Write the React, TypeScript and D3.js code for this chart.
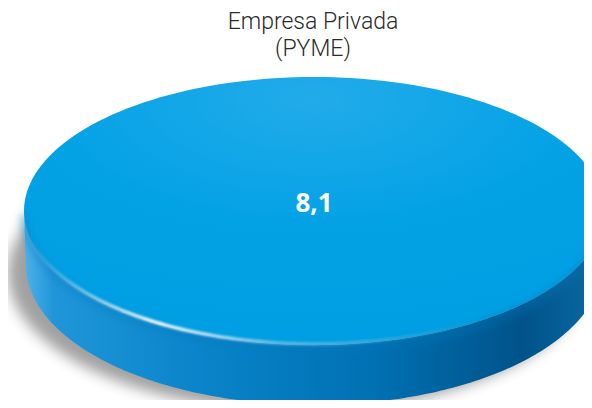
import * as d3 from "d3";

// chart data
const titleLines = ["Empresa Privada", "(PYME)"];
const categories = ["Empresa Privada (PYME)"];
const values = [8.1];

const W = 592;
const H = 408;

export default function App() {
  const cx = 314;
  const cy = 211;
  const rx = 290;
  const ry = 134;
  const depth = 54;

  const slices = d3.pie<number>().sort(null)(values);

  // project pie angles onto a tilted ellipse (bottom one a bit rounder for perspective)
  const pt = (a: number, dy = 0): [number, number] => {
    const k = dy / depth;
    return [
      cx + (rx - 2 * k) * Math.sin(a),
      cy - (ry + 6 * k) * Math.cos(a) + dy,
    ];
  };
  const arcPts = (a0: number, a1: number, dy = 0) =>
    d3.range(0, 181).map((i) => pt(a0 + ((a1 - a0) * i) / 180, dy));
  const line = d3.line();

  const fmt = (v: number) => v.toFixed(1).replace(".", ",");

  return (
    <svg width={W} height={H} style={{ display: "block", margin: -8 }}>
      <defs>
        <filter id="blur" x="-20%" y="-40%" width="140%" height="180%">
          <feGaussianBlur stdDeviation="7" />
        </filter>
        <filter id="soft" x="-20%" y="-40%" width="140%" height="180%">
          <feGaussianBlur stdDeviation="1.2" />
        </filter>
        <filter id="bevel" x="-20%" y="-40%" width="140%" height="180%">
          <feGaussianBlur stdDeviation="4" />
        </filter>
        <radialGradient id="topFill" cx="50%" cy="8%" r="85%">
          <stop offset="0%" stopColor="#22abea" />
          <stop offset="55%" stopColor="#03a2e5" />
          <stop offset="100%" stopColor="#009fe3" />
        </radialGradient>
        <linearGradient id="sideFill" x1="0" x2="1" y1="0" y2="0">
          <stop offset="0%" stopColor="#4fb2ea" />
          <stop offset="5%" stopColor="#2096d9" />
          <stop offset="30%" stopColor="#0a84ca" />
          <stop offset="60%" stopColor="#0071b3" />
          <stop offset="86%" stopColor="#00538a" />
          <stop offset="100%" stopColor="#0b6aa4" />
        </linearGradient>
        <linearGradient id="hl" x1="0" x2="1" y1="0" y2="0">
          <stop offset="0%" stopColor="#fff" stopOpacity="0" />
          <stop offset="28%" stopColor="#fff" stopOpacity="0.95" />
          <stop offset="55%" stopColor="#fff" stopOpacity="0.35" />
          <stop offset="100%" stopColor="#fff" stopOpacity="0" />
        </linearGradient>
      </defs>

      <g
        fontFamily="Roboto, 'Liberation Sans', sans-serif"
        fontWeight={300}
        fontSize={23}
        fill="#2b2b2b"
        textAnchor="middle"
      >
        {titleLines.map((t, i) => (
          <text key={i} x={313} y={29 + i * 27}>
            {t}
          </text>
        ))}
      </g>

      {slices.map((s, i) => {
        const a0 = Math.max(s.startAngle, Math.PI / 2);
        const a1 = Math.min(s.endAngle, (Math.PI * 3) / 2);
        const side =
          line([...arcPts(a0, a1), ...arcPts(a1, a0, depth)]) + "Z";
        const top = line(arcPts(s.startAngle, s.endAngle)) + "Z";
        const rimDark = line(arcPts(Math.PI * 0.5, Math.PI * 1.5, 3));
        const rim = line(arcPts(Math.PI * 0.8, Math.PI * 1.45, -1));
        const [lx, ly] =
          s.endAngle - s.startAngle >= 2 * Math.PI - 1e-6
            ? [cx, cy]
            : pt((s.startAngle + s.endAngle) / 2);
        return (
          <g key={categories[i]}>
            <ellipse
              cx={cx - 16}
              cy={cy + depth + 8}
              rx={rx}
              ry={ry + 4}
              fill="#6e6e6e"
              opacity={0.65}
              filter="url(#blur)"
            />
            <path d={side} fill="url(#sideFill)" />
            <path d={top} fill="url(#topFill)" />
            <path
              d={rimDark}
              fill="none"
              stroke="#0079bd"
              strokeOpacity={0.5}
              strokeWidth={6}
              filter="url(#bevel)"
            />
            <path
              d={rim}
              fill="none"
              stroke="url(#hl)"
              strokeWidth={3.5}
              filter="url(#soft)"
            />
            <text
              x={lx}
              y={ly + 1}
              textAnchor="middle"
              fontFamily="'Open Sans', sans-serif"
              fontWeight={700}
              fontSize={26}
              fill="#fff"
            >
              {fmt(values[i])}
            </text>
          </g>
        );
      })}
    </svg>
  );
}
